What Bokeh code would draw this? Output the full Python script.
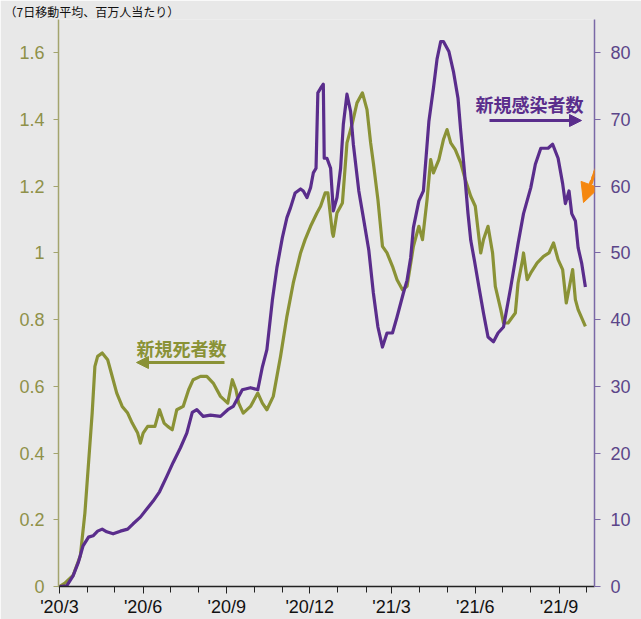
import math
import pandas as pd
from bokeh.plotting import figure
from bokeh.models import (Range1d, LinearAxis, FixedTicker, NumeralTickFormatter,
                          Label, Arrow, NormalHead, TeeHead)
from bokeh.embed import file_html
from bokeh.resources import INLINE

# ---------------- data ----------------
deaths_dates = ["2020-03-01","2020-03-07","2020-03-16","2020-03-24","2020-03-29","2020-04-02","2020-04-06","2020-04-09","2020-04-12","2020-04-17",
                "2020-04-23","2020-04-27","2020-05-03","2020-05-09","2020-05-15","2020-05-20","2020-05-26","2020-05-29","2020-06-01","2020-06-06",
                "2020-06-14","2020-06-19","2020-06-24","2020-06-28","2020-07-03","2020-07-08","2020-07-15","2020-07-21","2020-07-26","2020-08-03",
                "2020-08-10","2020-08-17","2020-08-25","2020-09-02","2020-09-07","2020-09-11","2020-09-14","2020-09-19","2020-09-27","2020-10-05",
                "2020-10-10","2020-10-15","2020-10-22","2020-10-30","2020-11-06","2020-11-13","2020-11-21","2020-11-26","2020-12-02","2020-12-09",
                "2020-12-13","2020-12-18","2020-12-21","2020-12-26","2020-12-27","2020-12-31","2021-01-06","2021-01-11","2021-01-17","2021-01-22",
                "2021-01-28","2021-02-02","2021-02-06","2021-02-09","2021-02-14","2021-02-19","2021-02-24","2021-03-02","2021-03-07","2021-03-13",
                "2021-03-18","2021-03-25","2021-03-31","2021-04-04","2021-04-09","2021-04-13","2021-04-16","2021-04-22","2021-04-27","2021-05-01",
                "2021-05-05","2021-05-10","2021-05-16","2021-05-21","2021-05-27","2021-06-01","2021-06-07","2021-06-10","2021-06-15","2021-06-20",
                "2021-06-23","2021-06-29","2021-07-02","2021-07-07","2021-07-15","2021-07-18","2021-07-23","2021-07-24","2021-07-28","2021-08-01",
                "2021-08-08","2021-08-15","2021-08-21","2021-08-26","2021-08-31","2021-09-05","2021-09-09","2021-09-16","2021-09-19","2021-09-22",
                "2021-09-30"]
deaths_values = [0, 0.01, 0.033, 0.092, 0.22, 0.37, 0.52, 0.66, 0.69, 0.70,
                 0.68, 0.64, 0.58, 0.54, 0.52, 0.49, 0.46, 0.43, 0.46, 0.48,
                 0.48, 0.53, 0.49, 0.48, 0.47, 0.53, 0.54, 0.59, 0.62, 0.63,
                 0.63, 0.61, 0.57, 0.55, 0.62, 0.59, 0.55, 0.52, 0.54, 0.58,
                 0.55, 0.53, 0.57, 0.69, 0.81, 0.91, 1.00, 1.04, 1.08, 1.12,
                 1.14, 1.18, 1.18, 1.06, 1.05, 1.12, 1.15, 1.33, 1.39, 1.45,
                 1.48, 1.43, 1.33, 1.27, 1.16, 1.02, 1.00, 0.96, 0.92, 0.89,
                 0.90, 1.02, 1.08, 1.04, 1.16, 1.28, 1.24, 1.28, 1.34, 1.37,
                 1.33, 1.31, 1.27, 1.22, 1.17, 1.14, 1.00, 1.04, 1.08, 1.00,
                 0.90, 0.83, 0.79, 0.79, 0.82, 0.91, 0.98, 1.00, 0.92, 0.94,
                 0.97, 0.99, 1.00, 1.03, 0.98, 0.95, 0.85, 0.95, 0.86, 0.83,
                 0.78]

cases_dates = ["2020-03-01","2020-03-09","2020-03-16","2020-03-22","2020-03-27","2020-04-02","2020-04-07","2020-04-12","2020-04-17","2020-04-22",
               "2020-04-29","2020-05-07","2020-05-15","2020-05-21","2020-05-29","2020-06-05","2020-06-12","2020-06-19","2020-06-27","2020-07-04",
               "2020-07-12","2020-07-19","2020-07-25","2020-07-30","2020-08-06","2020-08-14","2020-08-25","2020-09-02","2020-09-08","2020-09-14",
               "2020-09-18","2020-09-27","2020-10-05","2020-10-10","2020-10-15","2020-10-21","2020-10-26","2020-11-01","2020-11-06","2020-11-10",
               "2020-11-15","2020-11-21","2020-11-24","2020-11-28","2020-12-02","2020-12-05","2020-12-08","2020-12-10","2020-12-13","2020-12-16",
               "2020-12-17","2020-12-20","2020-12-24","2020-12-27","2020-12-31","2021-01-04","2021-01-07","2021-01-11","2021-01-15","2021-01-18",
               "2021-01-24","2021-01-29","2021-02-04","2021-02-09","2021-02-14","2021-02-19","2021-02-24","2021-03-02","2021-03-07","2021-03-14",
               "2021-03-18","2021-03-22","2021-03-25","2021-03-31","2021-04-05","2021-04-11","2021-04-16","2021-04-20","2021-04-24","2021-04-27",
               "2021-05-03","2021-05-08","2021-05-13","2021-05-16","2021-05-20","2021-05-24","2021-05-27","2021-05-31","2021-06-05","2021-06-10",
               "2021-06-15","2021-06-21","2021-06-26","2021-07-02","2021-07-10","2021-07-18","2021-07-24","2021-08-01","2021-08-06","2021-08-12",
               "2021-08-20","2021-08-25","2021-08-31","2021-09-05","2021-09-08","2021-09-12","2021-09-15","2021-09-19","2021-09-22","2021-09-26",
               "2021-09-30"]
cases_values = [0, 0.1, 1.6, 3.7, 6.1, 7.4, 7.6, 8.3, 8.6, 8.2,
                7.9, 8.3, 8.6, 9.4, 10.4, 11.6, 12.8, 14.2, 16.5, 18.6,
                20.8, 23.0, 26.1, 26.5, 25.5, 25.7, 25.5, 26.5, 27.0, 28.5,
                29.5, 29.8, 29.5, 32.9, 35.5, 42.9, 47.8, 52.3, 55.3, 56.8,
                59.0, 59.6, 59.3, 58.3, 59.8, 62.0, 62.7, 74.0, 74.7, 75.3,
                64.2, 64.2, 62.7, 56.3, 58.3, 62.7, 69.3, 73.8, 71.2, 66.3,
                59.3, 55.3, 50.4, 44.0, 38.9, 35.9, 38.0, 38.0, 40.4, 44.0,
                45.9, 49.3, 53.8, 57.8, 59.3, 69.7, 74.7, 79.1, 81.7, 81.7,
                80.2, 77.2, 73.2, 68.3, 62.3, 55.9, 51.9, 48.9, 44.9, 41.0,
                37.4, 36.7, 38.0, 38.9, 44.9, 51.4, 55.9, 59.8, 63.3, 65.7,
                65.7, 66.3, 64.2, 60.4, 57.4, 59.3, 55.9, 54.8, 50.8, 48.4,
                44.9]

x_tick_dates = ["2020-03-01", "2020-06-01", "2020-09-01", "2020-12-01", "2021-03-01", "2021-06-01", "2021-09-01"]
x_tick_labels = ["'20/3", "'20/6", "'20/9", "'20/12", "'21/3", "'21/6", "'21/9"]
month_dates = [str(d.date()) for d in pd.date_range("2020-03-01", "2021-10-01", freq="MS")]
left_ticks = [0, 0.2, 0.4, 0.6, 0.8, 1.0, 1.2, 1.4, 1.6]
right_ticks = [0, 10, 20, 30, 40, 50, 60, 70, 80]

title_text = "（7日移動平均、百万人当たり）"
deaths_label = "新規死者数"
cases_label = "新規感染者数"

# ---------------- style ----------------
BG = "#e8e8e8"
OLIVE = "#8a9236"
OLIVE_TXT = "#8f9148"
PURPLE = "#5a2d8c"
PURPLE_TXT = "#5b4589"
ORANGE = "#f5870f"

W, H = 641, 619
BL, BR, BT, BB = 58, 47, 18, 31
FW, FH = W - BL - BR, H - BT - BB


def ms(s):
    return pd.Timestamp(s).value / 1e6


X_START, X_END = ms("2020-02-29"), ms("2021-10-10")
LEFT_TOP, RIGHT_TOP = 1.7, 85.0


# canvas pixel -> annotation screen units (relative to the frame's bottom-left)
def ux(px):
    return px - BL


def uy(py):
    return BT + FH - py


p = figure(width=W, height=H, x_axis_type="datetime",
           x_range=Range1d(X_START, X_END), y_range=Range1d(0, LEFT_TOP),
           output_backend="svg", toolbar_location=None,
           min_border_left=BL, min_border_right=BR, min_border_top=BT, min_border_bottom=BB,
           background_fill_color=BG, border_fill_color=BG, outline_line_color=None)
p.extra_y_ranges = {"cases": Range1d(0, RIGHT_TOP)}
p.grid.visible = False

# title (small, at the very top-left)
p.title.text = title_text
p.title.text_font = "Noto Sans CJK JP"
p.title.text_font_size = "12px"
p.title.text_font_style = "normal"
p.title.text_color = "#111111"
p.title.align = "left"
p.title.offset = -54
p.title.standoff = 0

# x axis
xa = p.xaxis[0]
x_ticks = [ms(d) for d in x_tick_dates]
xa.ticker = FixedTicker(ticks=x_ticks, minor_ticks=[ms(d) for d in month_dates])
xa.major_label_overrides = dict(zip(x_ticks, x_tick_labels))
xa.axis_line_color = "#222222"
xa.axis_line_width = 1.3
xa.major_tick_line_color = "#222222"
xa.minor_tick_line_color = "#222222"
xa.major_tick_in = 0
xa.major_tick_out = 7
xa.minor_tick_in = 0
xa.minor_tick_out = 6
xa.major_label_text_font = "Liberation Sans"
xa.major_label_text_font_size = "18px"
xa.major_label_text_color = "#111111"
xa.major_label_standoff = 3

# left axis
ya = p.yaxis[0]
ya.ticker = FixedTicker(ticks=left_ticks)
ya.formatter = NumeralTickFormatter(format="0.[0]")
ya.axis_line_color = "#a3a46e"
ya.axis_line_width = 1.5
ya.major_tick_line_color = "#a3a46e"
ya.major_tick_in = 0
ya.major_tick_out = 5
ya.minor_tick_line_color = None
ya.major_label_text_font = "Liberation Sans"
ya.major_label_text_font_size = "18px"
ya.major_label_text_color = OLIVE_TXT
ya.major_label_standoff = 9

# right axis
ra = LinearAxis(y_range_name="cases", ticker=FixedTicker(ticks=right_ticks))
ra.axis_line_color = "#7a68a6"
ra.axis_line_width = 1.5
ra.major_tick_line_color = "#7a68a6"
ra.major_tick_in = 0
ra.major_tick_out = 6
ra.minor_tick_line_color = None
ra.major_label_text_font = "Liberation Sans"
ra.major_label_text_font_size = "18px"
ra.major_label_text_color = PURPLE_TXT
ra.major_label_standoff = 10
p.add_layout(ra, "right")

# lines
p.line(pd.to_datetime(deaths_dates), deaths_values, line_color=OLIVE, line_width=3.2, line_join="round")
p.line(pd.to_datetime(cases_dates), cases_values, line_color=PURPLE, line_width=3.2, line_join="round",
       y_range_name="cases")

CJK = "Noto Sans CJK JP"
S = dict(x_units="screen", y_units="screen")
AS = dict(start_units="screen", end_units="screen")

# annotation: deaths
p.add_layout(Label(x=ux(181), y=uy(349), text=deaths_label, text_align="center", text_baseline="middle",
                   text_font=CJK, text_font_size="18px", text_font_style="bold", text_color=OLIVE, **S))
p.add_layout(Arrow(x_start=ux(224), y_start=uy(364), x_end=ux(136), y_end=uy(364),
                   line_color=OLIVE, line_width=3,
                   end=NormalHead(size=12, fill_color=OLIVE, line_color=OLIVE), **AS))

# annotation: cases
p.add_layout(Label(x=ux(529), y=uy(105), text=cases_label, text_align="center", text_baseline="middle",
                   text_font=CJK, text_font_size="18px", text_font_style="bold", text_color=PURPLE, **S))
p.add_layout(Arrow(x_start=ux(489), y_start=uy(122), x_end=ux(581), y_end=uy(122),
                   line_color=PURPLE, line_width=3,
                   end=NormalHead(size=12, fill_color=PURPLE, line_color=PURPLE), **AS))

# orange curved arrow, drawn as a chain of tee-heads lying along a curve
P0, C, P2 = (643, 112), (603, 140), (591, 184)
n = 16
pts = []
for i in range(n + 1):
    t = i / n
    bx = (1 - t) ** 2 * P0[0] + 2 * (1 - t) * t * C[0] + t ** 2 * P2[0]
    by = (1 - t) ** 2 * P0[1] + 2 * (1 - t) * t * C[1] + t ** 2 * P2[1]
    pts.append((bx, by))
for (ax_, ay_), (bx_, by_) in zip(pts[:-1], pts[1:]):
    mx, my = (ax_ + bx_) / 2, (ay_ + by_) / 2
    L = math.hypot(bx_ - ax_, by_ - ay_)
    tx, ty = (bx_ - ax_) / L, (by_ - ay_) / L
    nx, ny = -ty, tx
    p.add_layout(Arrow(x_start=ux(mx - 6 * nx), y_start=uy(my - 6 * ny), x_end=ux(mx), y_end=uy(my),
                       line_alpha=0, level="overlay",
                       end=TeeHead(size=L + 1.5, line_color=ORANGE, line_width=3, line_cap="round"), **AS))
p.add_layout(Arrow(x_start=ux(591), y_start=uy(182), x_end=ux(583), y_end=uy(204),
                   line_color=ORANGE, line_width=3, level="overlay",
                   end=NormalHead(size=19, fill_color=ORANGE, line_color=ORANGE), **AS))

open("out.html", "w").write(file_html(p, INLINE))
